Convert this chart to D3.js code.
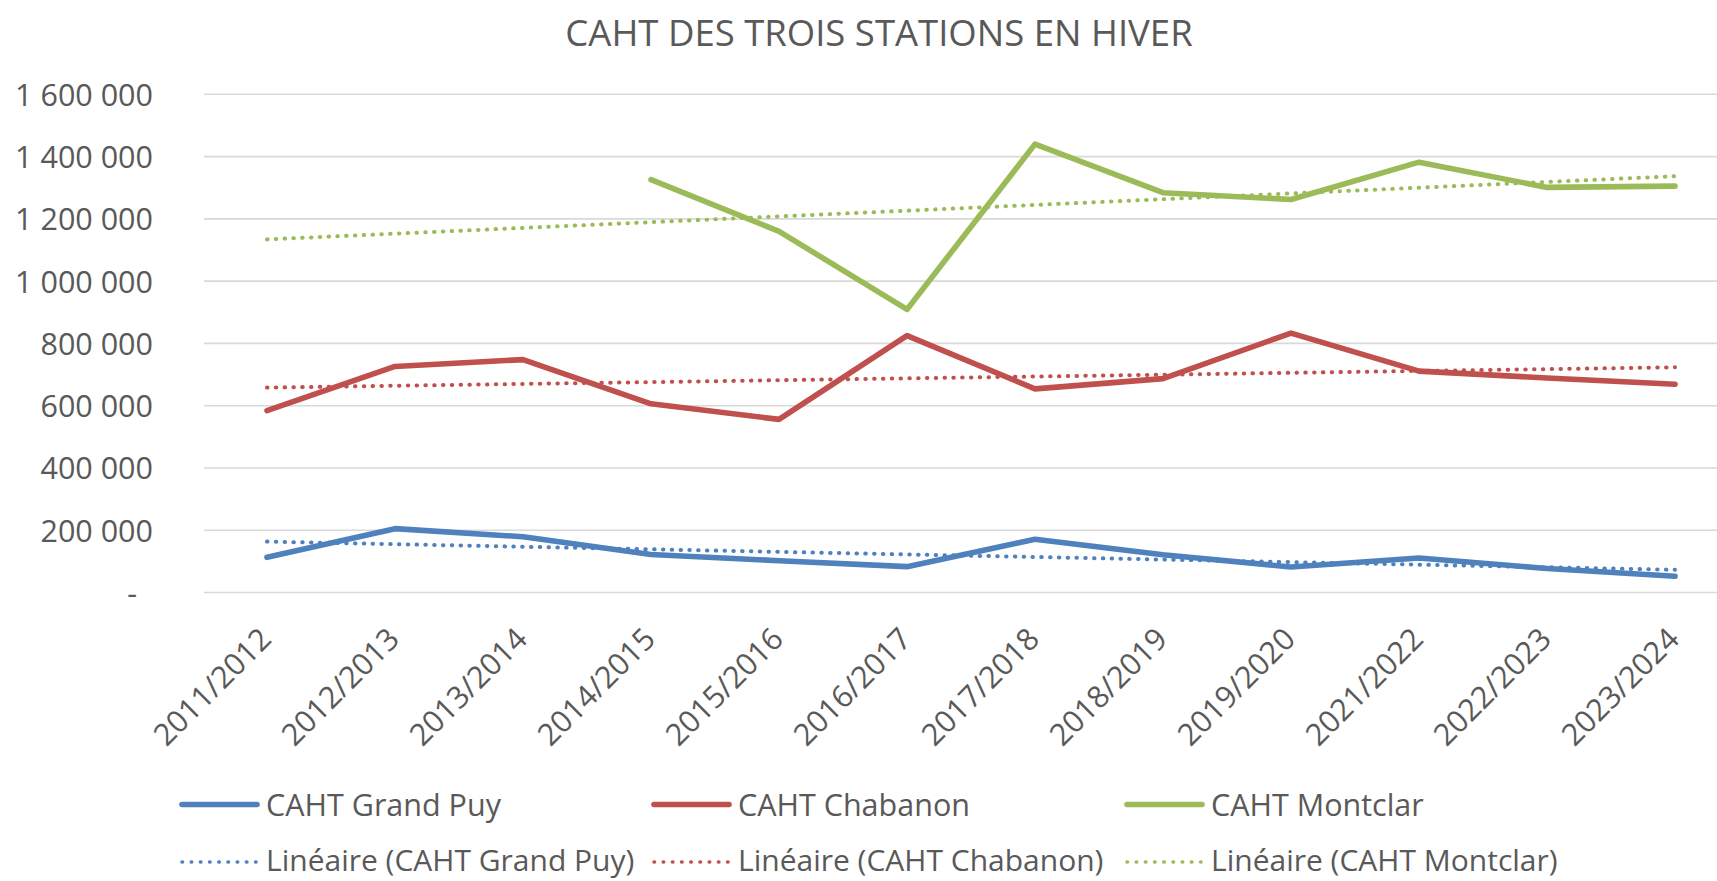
<!DOCTYPE html>
<html>
<head>
<meta charset="utf-8">
<script src="https://cdn.jsdelivr.net/npm/d3@7"></script>
<style>
  html, body { margin: 0; padding: 0; background: #fff; }
  svg text { font-family: "Open Sans", "Noto Sans", sans-serif; fill: #595959; }
</style>
</head>
<body>
<svg id="chart" width="1717" height="881"></svg>
<script>
const title = "CAHT DES TROIS STATIONS EN HIVER";
const categories = ["2011/2012","2012/2013","2013/2014","2014/2015","2015/2016","2016/2017","2017/2018","2018/2019","2019/2020","2021/2022","2022/2023","2023/2024"];
const grandPuy = [113000, 205000, 179000, 122000, 102000, 83000, 171000, 121000, 82000, 111000, 77000, 52000];
const chabanon = [584000, 726000, 748000, 606000, 556000, 825000, 654000, 687000, 833000, 711000, 689000, 669000];
const montclar = [null, null, null, 1326000, 1160000, 909000, 1440000, 1284000, 1262000, 1382000, 1301000, 1305000];
const yTicks = [0, 200000, 400000, 600000, 800000, 1000000, 1200000, 1400000, 1600000];
const seriesNames = ["CAHT Grand Puy", "CAHT Chabanon", "CAHT Montclar"];
const trendNames = ["Linéaire (CAHT Grand Puy)", "Linéaire (CAHT Chabanon)", "Linéaire (CAHT Montclar)"];
const colors = ["#4F81BD", "#C0504D", "#9BBB59"];

const series = [grandPuy, chabanon, montclar].map((vals, i) => ({ name: seriesNames[i], trend: trendNames[i], color: colors[i], vals }));

const svg = d3.select("#chart");
const x = d3.scalePoint().domain(categories).range([267, 1675]);
const y = d3.scaleLinear().domain([0, 1600000]).range([592.5, 94.3]);
const gridLeft = 204, gridRight = 1717;

// title
svg.append("text").attr("x", 879).attr("y", 46).attr("text-anchor", "middle")
  .style("font-size", "36.5px").text(title);

// gridlines
svg.append("g").selectAll("line").data(yTicks).join("line")
  .attr("x1", gridLeft).attr("x2", gridRight)
  .attr("y1", d => y(d)).attr("y2", d => y(d))
  .attr("stroke", "#D9D9D9").attr("stroke-width", 1.6);

// y axis labels
const fmt = d => d === 0 ? "-" : d3.format(",")(d).replace(/,/g, " ");
const yAxis = d3.axisLeft(y).tickValues(yTicks).tickFormat(fmt).tickSize(0).tickPadding(0);
const gy = svg.append("g").attr("transform", "translate(153,0)").call(yAxis);
gy.select(".domain").remove();
gy.selectAll("text").style("font-size", "30.5px").attr("fill", "#595959")
  .attr("font-family", null).attr("dy", "0.357em")
  .attr("dx", d => d === 0 ? -16 : 0);

// x axis labels
const xAxis = d3.axisBottom(x).tickSize(0).tickPadding(0);
const gx = svg.append("g").call(xAxis);
gx.select(".domain").remove();
gx.selectAll(".tick").attr("transform", d => `translate(${x(d) + 6},641)`);
gx.selectAll("text").attr("y", 0).attr("dy", 0).attr("fill", "#595959").attr("font-family", null)
  .style("font-size", "30.5px").attr("text-anchor", "end").attr("transform", "rotate(-45)");

// main lines
const line = d3.line().defined(d => d.v !== null).x(d => x(d.c)).y(d => y(d.v));
series.forEach(s => {
  svg.append("path")
    .datum(s.vals.map((v, i) => ({ c: categories[i], v })))
    .attr("fill", "none").attr("stroke", s.color).attr("stroke-width", 5.6)
    .attr("stroke-linejoin", "round").attr("stroke-linecap", "round")
    .attr("d", line);
});

// linear trendlines (least squares on available points)
function regression(vals) {
  const pts = vals.map((v, i) => [i + 1, v]).filter(p => p[1] !== null);
  const mx = d3.mean(pts, p => p[0]), my = d3.mean(pts, p => p[1]);
  const sxy = d3.sum(pts, p => (p[0] - mx) * (p[1] - my));
  const sxx = d3.sum(pts, p => (p[0] - mx) ** 2);
  const b = sxy / sxx;
  return t => my + b * (t - mx);
}
series.forEach(s => {
  const f = regression(s.vals);
  const ends = [0, categories.length - 1].map(i => ({ c: categories[i], v: f(i + 1) }));
  svg.append("path").datum(ends)
    .attr("fill", "none").attr("stroke", s.color).attr("stroke-width", 4)
    .attr("stroke-linecap", "round").attr("stroke-dasharray", "0.5 8.3")
    .attr("d", line);
});

// legend
const legendCols = [180, 652, 1125];
const legend = svg.append("g");
series.forEach((s, i) => {
  const lx = legendCols[i];
  legend.append("line").attr("x1", lx + 2).attr("x2", lx + 77).attr("y1", 804.5).attr("y2", 804.5)
    .attr("stroke", s.color).attr("stroke-width", 5.6).attr("stroke-linecap", "round");
  legend.append("text").attr("x", lx + 86).attr("y", 815.5).style("font-size", "30.5px").text(s.name);
  legend.append("line").attr("x1", lx + 2).attr("x2", lx + 76).attr("y1", 862).attr("y2", 862)
    .attr("stroke", s.color).attr("stroke-width", 3.6).attr("stroke-linecap", "round")
    .attr("stroke-dasharray", "0.5 8.7");
  legend.append("text").attr("x", lx + 86).attr("y", 871).style("font-size", "30px").text(s.trend);
});
</script>
</body>
</html>
